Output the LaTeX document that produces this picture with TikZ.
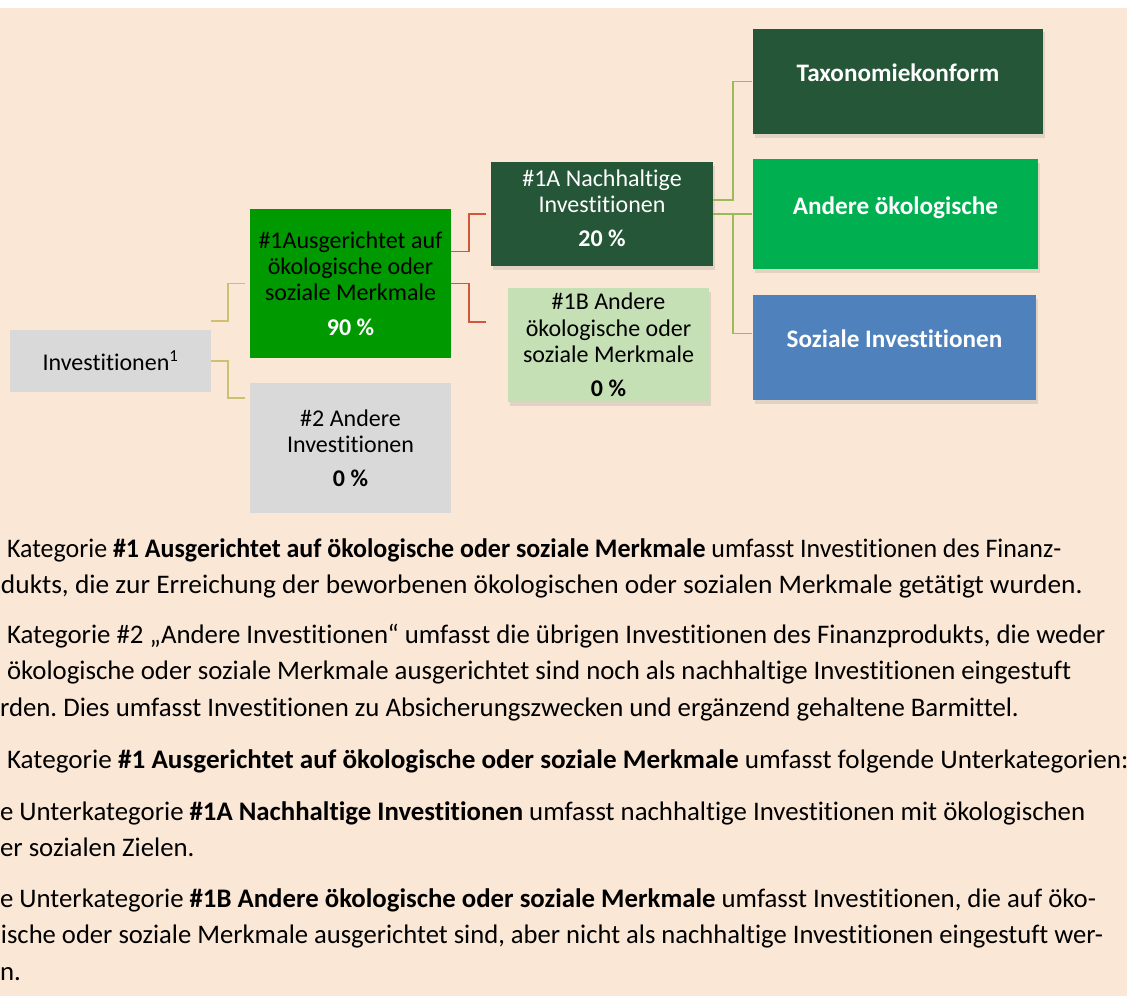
\documentclass[tikz,border=0pt]{standalone}
\usepackage{fontspec}
\setmainfont{Carlito}[Ligatures=NoCommon]
\frenchspacing
\usetikzlibrary{shadows}

\definecolor{peach}{HTML}{FBE7D6}
\definecolor{boxgray}{HTML}{D9D9D9}
\definecolor{midgreen}{HTML}{009900}
\definecolor{darkgreen}{HTML}{255638}
\definecolor{brightgreen}{HTML}{00B050}
\definecolor{palegreen}{HTML}{C5E0B4}
\definecolor{steelblue}{HTML}{4F81BD}
\definecolor{tanline}{HTML}{CDBF73}
\definecolor{redline}{HTML}{D0573A}
\definecolor{oliveline}{HTML}{9BBB59}

\begin{document}
\begin{tikzpicture}[x=1pt,y=-1pt,
  every node/.style={inner sep=0pt,outer sep=0pt,font=\fontsize{24}{26.2}\selectfont},
  cat/.style={align=center,minimum width=201pt},
  goal/.style={text=white,font=\fontsize{25.2}{26.2}\selectfont\bfseries,text height=9pt,text depth=9pt},
  shade/.style={drop shadow={opacity=0.2,shadow xshift=1.5pt,shadow yshift=-3.5pt}},
  link/.style={line width=1.5pt},
  txt/.style={anchor=base west,font=\fontsize{26.8}{30}\selectfont}]

\fill[white] (0,0) rectangle (1134,998);
\fill[peach] (0,8) rectangle (1127,996);

% first level
\node[fill=boxgray,minimum width=201pt,minimum height=62pt] (inv) at (110.5,361) {Investitionen\textsuperscript{1}};

% second level
\node[cat,fill=midgreen,minimum height=149pt] (ausg) at (350.5,283.5) {\#1Ausgerichtet auf\\ökologische oder\\soziale Merkmale\\[8pt]\textcolor{white}{\textbf{90 \%}}};
\node[cat,fill=boxgray,minimum height=130pt] (zwei) at (350.5,448) {\#2 Andere\\Investitionen\\[8pt]\textbf{0 \%}};

% third level
\node[cat,shade,fill=darkgreen,text=white,minimum width=222pt,minimum height=104pt] (nach) at (602,214) {\#1A Nachhaltige\\Investitionen\\[8pt]\textbf{20 \%}\\[-14.2pt]};
\node[cat,shade,fill=palegreen,minimum height=114pt] (merk) at (608.5,345) {\#1B Andere\\ökologische oder\\soziale Merkmale\\[8pt]\textbf{0 \%}};

% fourth level
\node[goal,shade,fill=darkgreen,minimum width=290pt,minimum height=105pt] (tax) at (898,81.5) {Taxonomiekonform};
\node[goal,shade,fill=brightgreen,minimum width=285pt,minimum height=110pt] (andere) at (895.5,214) {Andere ökologische};
\node[goal,shade,fill=steelblue,minimum width=283pt,minimum height=105pt] (sozial) at (894.5,347.5) {Soziale Investitionen};

% connectors
\draw[link,tanline] ([yshift=9pt]inv.north east) -- ++(17,0) |- ([xshift=-5pt]ausg.west);
\draw[link,tanline] (inv.east) -- ++(17,0) |- ([xshift=-5pt,yshift=-15pt]zwei.north west);
\draw[link,redline] ([yshift=32pt]ausg.east) -- ++(18,0) |- ([xshift=-5pt]nach.west);
\draw[link,redline] (ausg.east) -- ++(18,0) |- ([xshift=-22pt,yshift=23pt]merk.west);
\draw[link,oliveline] ([yshift=14pt]nach.east) -- ++(20,0) |- ([xshift=-1pt]tax.west);
\draw[link,oliveline] (nach.east) -- ([xshift=-1pt]nach.east -| andere.west);
\draw[link,oliveline] (nach.east) ++(20,0) |- ([xshift=-1pt,yshift=14pt]sozial.west);

% explanations
\node[txt] (l1) at (7,557) {\scalebox{0.968}[1]{Kategorie \textbf{\#1 Ausgerichtet auf ökologische oder soziale Merkmale} umfasst Investitionen des Finanz-}};
\node[txt] (l2) at (1,593) {\scalebox{1.022}[1]{dukts, die zur Erreichung der beworbenen ökologischen oder sozialen Merkmale getätigt wurden.}};
\node[txt] (l3) at (7,643) {Kategorie \#2 „Andere Investitionen“ umfasst die übrigen Investitionen des Finanzprodukts, die weder};
\node[txt] (l4) at (7,679) {ökologische oder soziale Merkmale ausgerichtet sind noch als nachhaltige Investitionen eingestuft};
\node[txt] (l5) at (0,716) {rden. Dies umfasst Investitionen zu Absicherungszwecken und ergänzend gehaltene Barmittel.};
\node[txt] (l6) at (7,768) {\scalebox{1.014}[1]{Kategorie \textbf{\#1 Ausgerichtet auf ökologische oder soziale Merkmale} umfasst folgende Unterkategorien:}};
\node[txt] (l7) at (0,820) {e Unterkategorie \textbf{\#1A Nachhaltige Investitionen} umfasst nachhaltige Investitionen mit ökologischen};
\node[txt] (l8) at (0,856) {er sozialen Zielen.};
\node[txt] (l9) at (0,907) {e Unterkategorie \textbf{\#1B Andere ökologische oder soziale Merkmale} umfasst Investitionen, die auf öko-};
\node[txt] (l10) at (1,943) {\scalebox{0.993}[1]{ische oder soziale Merkmale ausgerichtet sind, aber nicht als nachhaltige Investitionen eingestuft wer-}};
\node[txt] (l11) at (0,980) {n.};
\end{tikzpicture}
\end{document}
